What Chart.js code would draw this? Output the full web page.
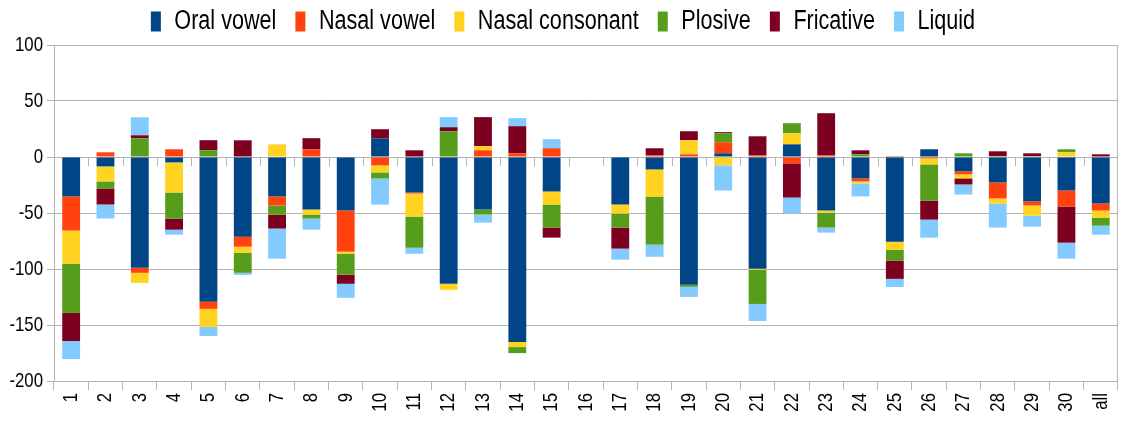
<!DOCTYPE html>
<html>
<head>
<meta charset="utf-8">
<script src="https://cdn.jsdelivr.net/npm/chart.js@4/dist/chart.umd.min.js"></script>
<style>
	html, body { margin: 0; padding: 0; background: #fff; }
	#wrap { width: 1129px; height: 423px; position: relative; }
</style>
</head>
<body>
<div id="wrap"><canvas id="myChart"></canvas></div>
<script>
// categories and values per sound class
const categories = ['1', '2', '3', '4', '5', '6', '7', '8', '9', '10', '11', '12', '13', '14', '15', '16', '17', '18', '19', '20', '21', '22', '23', '24', '25', '26', '27', '28', '29', '30', 'all'];
const oralVowel = [-35.2, -8.4, -98.9, -4.8, -129.3, -71.1, -35.2, -46.9, -47.8, 16.7, -31.7, -113.2, -46.9, -165.2, -30.8, 0, -42.4, -11.1, -114.1, 3.3, -99.8, 11.3, -47.8, -19.1, -75.6, 6.9, -12.8, -22.7, -39.7, -29.9, -41.5];
const nasalVowel = [-30.5, 4.2, -4.5, 6.9, -6.3, -9.0, -8.1, 6.9, -36.7, -7.5, -0.9, 0, 6.0, 3.3, 7.8, 0, 0, 1.5, 2.4, 9.9, 1.5, -5.7, 1.5, -2.7, 0.9, -1.2, -2.7, -14.3, -3.6, -14.3, -6.3];
const nasalConsonant = [-29.6, -13.4, -9.0, -26.9, -16.1, -5.4, 11.3, -4.5, -1.8, -6.3, -20.6, -5.4, 3.6, -4.5, -11.6, 0, -8.1, -24.2, 12.5, -7.5, -0.9, 9.9, -1.8, -1.8, -7.2, -5.4, -3.6, -4.5, -9.0, 4.2, -6.3];
const plosive = [-43.9, -6.3, 16.7, -23.3, 6.0, -17.9, -8.1, -3.6, -18.8, -5.4, -27.8, 23.0, -4.5, -5.4, -20.6, 0, -12.5, -43.0, -1.8, 8.1, -30.5, 9.0, -13.4, 2.4, -9.9, -32.3, 3.3, 0.9, 0.9, 2.7, -7.2];
const fricative = [-25.1, -14.3, 2.7, -9.9, 9.0, 14.9, -12.5, 9.9, -8.1, 8.1, 6.0, 3.6, 26.0, 24.2, -9.0, 0, -18.8, 6.3, 8.1, 0.9, 17.0, -30.5, 37.6, 3.6, -16.1, -17.0, -5.4, 4.2, 2.4, -32.3, 2.4];
const liquid = [-16.1, -12.5, 16.1, -4.5, -8.1, -1.8, -26.9, -9.9, -12.5, -23.3, -5.4, 9.0, -7.2, 7.2, 8.1, 0, -9.9, -10.8, -9.0, -22.4, -15.2, -14.0, -4.5, -11.6, -7.2, -16.1, -9.0, -21.5, -9.9, -14.3, -8.1];

const FONT = "'Liberation Sans', Arial, sans-serif";
const GRID = '#b3b3b3';

// no narrow face installed, so squeeze all canvas text sideways
const NARROW = 0.8;
const proto = CanvasRenderingContext2D.prototype;
const fillText0 = proto.fillText;
const measureText0 = proto.measureText;
proto.fillText = function (text, x, y) {
	this.save();
	this.translate(x, y);
	this.scale(NARROW, 1);
	fillText0.call(this, text, 0, 0);
	this.restore();
};
proto.measureText = function (text) {
	const m = measureText0.call(this, text);
	return {
		width: m.width * NARROW,
		actualBoundingBoxAscent: m.actualBoundingBoxAscent,
		actualBoundingBoxDescent: m.actualBoundingBoxDescent,
	};
};

// short tick marks under the zero line + frame round the plot
const frameTicks = {
	id: 'frameTicks',
	afterDraw(chart) {
		const { ctx, chartArea } = chart;
		const x = chart.scales.x;
		const y = chart.scales.y;
		const y0 = y.getPixelForValue(0);
		ctx.save();
		ctx.strokeStyle = GRID;
		ctx.lineWidth = 1;
		ctx.beginPath();
		for (let i = 1; i < categories.length; i++) {
			const px = Math.round(x.getPixelForValue(i - 0.5)) + 0.5;
			ctx.moveTo(px, y0);
			ctx.lineTo(px, y0 + 9);
		}
		ctx.stroke();
		ctx.strokeRect(chartArea.left + 0.5, chartArea.top + 0.5, chartArea.width - 1, chartArea.height);
		ctx.restore();
	},
};

function makeSet(label, data, color) {
	return { label: label, data: data, backgroundColor: color, borderWidth: 0 };
}

const ctx = document.getElementById('myChart');
const myChart = new Chart(ctx, {
	type: 'bar',
	data: {
		labels: categories,
		datasets: [
			makeSet('Oral vowel', oralVowel, '#004586'),
			makeSet('Nasal vowel', nasalVowel, '#ff420e'),
			makeSet('Nasal consonant', nasalConsonant, '#ffd320'),
			makeSet('Plosive', plosive, '#579d1c'),
			makeSet('Fricative', fricative, '#7e0021'),
			makeSet('Liquid', liquid, '#83caff'),
		],
	},
	options: {
		responsive: true,
		maintainAspectRatio: false,
		animation: false,
		datasets: {
			bar: { barPercentage: 0.52, categoryPercentage: 1 },
		},
		layout: { padding: { top: -11, right: 3, bottom: 0, left: 0 } },
		plugins: {
			legend: {
				position: 'top',
				maxHeight: 59,
				labels: {
					boxWidth: 10,
					boxHeight: 20,
					padding: 19,
					color: '#000',
					font: { family: FONT, size: 27 },
				},
			},
			tooltip: { enabled: false },
		},
		scales: {
			x: {
				stacked: true,
				grid: {
					offset: true,
					drawOnChartArea: false,
					tickLength: 9,
					color: GRID,
				},
				border: { color: GRID },
				ticks: {
					minRotation: 90,
					maxRotation: 90,
					padding: 3,
					color: '#000',
					font: { family: FONT, size: 21 },
				},
				afterFit(scale) {
					scale.height = 42;
				},
			},
			y: {
				stacked: true,
				min: -200,
				max: 100,
				grid: { color: GRID, tickLength: 7 },
				border: { color: GRID },
				ticks: {
					stepSize: 50,
					padding: 4,
					color: '#000',
					font: { family: FONT, size: 21 },
				},
				afterFit(scale) {
					scale.width = 54;
				},
			},
		},
	},
	plugins: [frameTicks],
});
</script>
</body>
</html>
